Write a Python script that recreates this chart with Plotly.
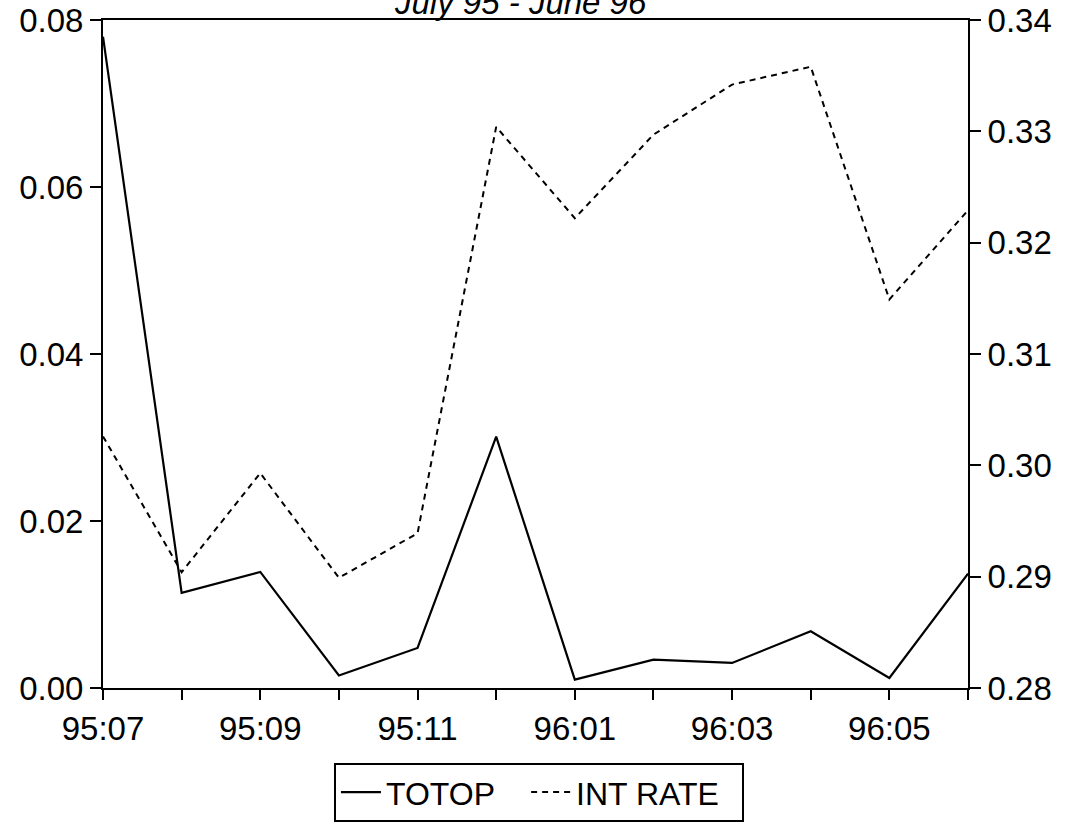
import plotly.graph_objects as go

months = ["95:07", "95:08", "95:09", "95:10", "95:11", "95:12",
          "96:01", "96:02", "96:03", "96:04", "96:05", "96:06"]
totop = [0.078, 0.0114, 0.0139, 0.0015, 0.0048, 0.0301,
         0.0010, 0.0034, 0.0030, 0.0068, 0.0012, 0.0137]
int_rate = [0.3026, 0.2904, 0.2993, 0.2899, 0.2939, 0.3304,
            0.3222, 0.3297, 0.3342, 0.3358, 0.3149, 0.3229]
left_ticks = [0.00, 0.02, 0.04, 0.06, 0.08]
right_ticks = [0.28, 0.29, 0.30, 0.31, 0.32, 0.33, 0.34]

idx = list(range(len(months)))
xlabels = [m if i % 2 == 0 else "" for i, m in enumerate(months)]

FONT = "Liberation Sans, Arial, sans-serif"

fig = go.Figure()
fig.add_trace(go.Scatter(x=idx, y=totop, mode="lines", name="TOTOP   ",
                         line=dict(color="black", width=2.2)))
fig.add_trace(go.Scatter(x=idx, y=int_rate, mode="lines", name="INT RATE  ",
                         yaxis="y2",
                         line=dict(color="black", width=2, dash="6px,5px")))

axis_common = dict(showline=True, linecolor="black", linewidth=2,
                   ticks="outside", tickwidth=1.5, tickcolor="black",
                   showgrid=False, zeroline=False, automargin=False,
                   tickfont=dict(size=33, family=FONT))

fig.update_layout(
    width=1068, height=822,
    margin=dict(l=103, r=100, t=20, b=134, autoexpand=False),
    paper_bgcolor="white", plot_bgcolor="white",
    font=dict(family=FONT, color="black", size=33),
    showlegend=True,
    legend=dict(orientation="h", x=0.504, xanchor="center", y=-0.112, yanchor="top",
                bordercolor="black", borderwidth=2, bgcolor="white",
                font=dict(size=32, family=FONT), itemwidth=40),
    xaxis=dict(range=[0, 11], tickvals=idx, ticktext=xlabels, mirror=True,
               ticklen=10, **axis_common),
    yaxis=dict(range=[0, 0.08], tickvals=left_ticks, tickformat=".2f",
               ticklen=11, **axis_common),
    yaxis2=dict(range=[0.28, 0.34], tickvals=right_ticks, tickformat=".2f",
                overlaying="y", side="right", ticklen=11, **axis_common),
    annotations=[dict(text="<i>July 95 - June 96</i>", xref="paper", yref="paper",
                      x=0.483, y=0.996, xanchor="center", yanchor="bottom",
                      showarrow=False, font=dict(size=33, family=FONT))],
)

fig.write_html("out.html")
